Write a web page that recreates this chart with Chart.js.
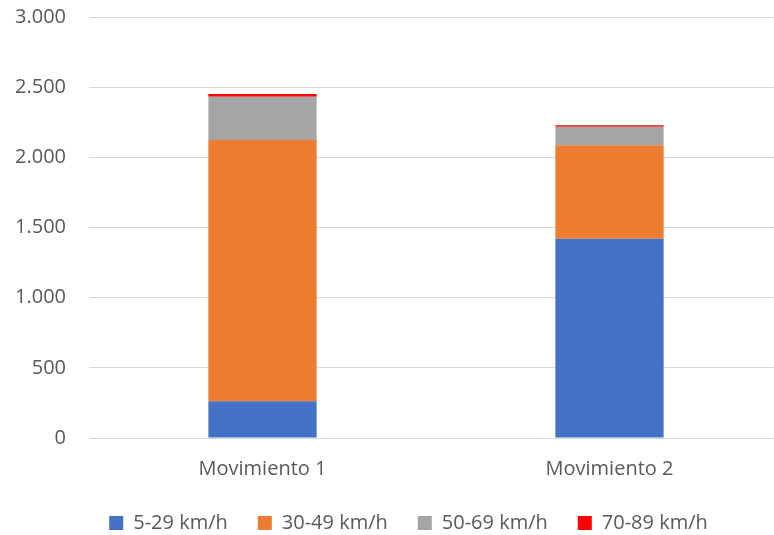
<!DOCTYPE html>
<html>
<head>
<meta charset="utf-8">
<script src="https://cdn.jsdelivr.net/npm/chart.js@4/dist/chart.umd.min.js"></script>
<style>
html,body{margin:0;padding:0;background:#fff;overflow:hidden;}
#wrap{width:816px;height:535px;}
</style>
</head>
<body>
<div id="wrap"><canvas id="c" width="816" height="535"></canvas></div>
<script>
const categories = ["Movimiento 1", "Movimiento 2"];
const seriesNames = ["5-29 km/h", "30-49 km/h", "50-69 km/h", "70-89 km/h"];
const s5_29 = [262, 1420];
const s30_49 = [1862, 666];
const s50_69 = [308, 132];
const s70_89 = [19, 10];
const yTicks = [0, 500, 1000, 1500, 2000, 2500, 3000];
const colors = ["#4472C4", "#ED7D31", "#A5A5A5", "#FF0000"];

function fmt(v){
  return String(v).replace(/\B(?=(\d{3})+(?!\d))/g, ".");
}

const FONT = "'Open Sans', 'Liberation Sans', sans-serif";
const seriesData = [s5_29, s30_49, s50_69, s70_89];

const legendTweak = {
  id: 'legendTweak',
  beforeInit(chart) {
    const lg = chart.legend;
    if (!lg) return;
    const origFit = lg.fit;
    lg.fit = function () {
      origFit.call(this);
      this.height -= 17;
    };
    lg.draw = function () {
      if (!this.options.display) return;
      const ctx = this.ctx;
      ctx.save();
      ctx.translate(17, -9);
      this._draw();
      ctx.restore();
    };
  }
};

new Chart(document.getElementById('c'), {
  type: 'bar',
  data: {
    labels: categories,
    datasets: seriesData.map((d, i) => ({
      label: seriesNames[i],
      data: d,
      backgroundColor: colors[i],
      borderWidth: 0,
      categoryPercentage: 1,
      barPercentage: 0.312
    }))
  },
  options: {
    responsive: false,
    animation: false,
    layout: { padding: { top: 0, left: 0, right: 33, bottom: 0 } },
    plugins: {
      legend: {
        position: 'bottom',
        labels: {
          boxWidth: 14, boxHeight: 14,
          color: '#595959',
          font: { family: FONT, size: 20 },
          padding: 30
        }
      },
      tooltip: { enabled: false }
    },
    scales: {
      x: {
        stacked: true,
        grid: { display: false },
        border: { display: false },
        ticks: { color: '#595959', font: { family: FONT, size: 20 }, padding: 11 }
      },
      y: {
        stacked: true,
        min: 0, max: 3000,
        afterBuildTicks: (axis) => { axis.ticks = yTicks.map(v => ({ value: v })); },
        afterFit: (scale) => { scale.width = 89; scale.paddingTop = 17; scale.paddingBottom = 0; },
        grid: { color: '#D9D9D9', lineWidth: 1, drawTicks: false },
        border: { display: false },
        ticks: {
          color: '#595959',
          font: { family: FONT, size: 20 },
          padding: 23,
          callback: (v) => fmt(v)
        }
      }
    }
  },
  plugins: [legendTweak]
});
</script>
</body>
</html>
